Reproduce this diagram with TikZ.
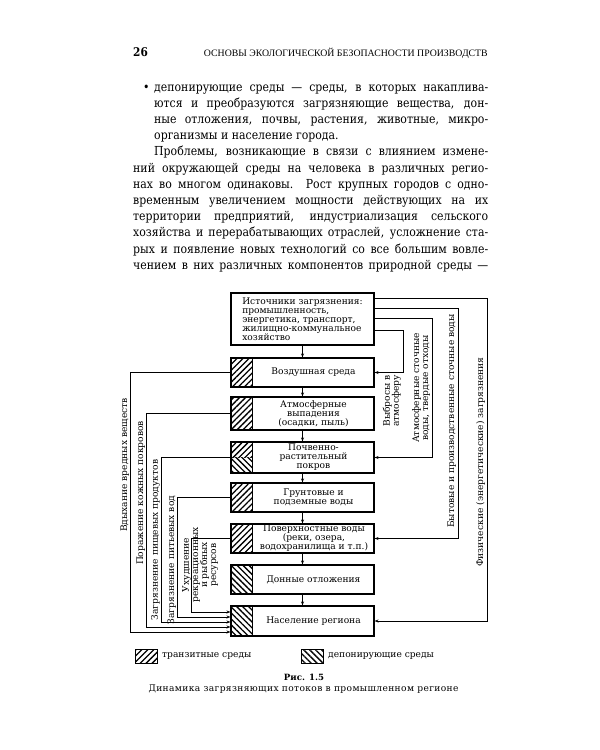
\documentclass[tikz,border=0pt]{standalone}
\usepackage{fontspec}
\setmainfont{DejaVu Serif}[FakeStretch=0.88]
\newfontfamily\dgfam{DejaVu Serif}
\newfontfamily\capfam{DejaVu Serif}[LetterSpace=4]
\newfontfamily\hdrfont{Liberation Serif}
\usetikzlibrary{patterns.meta,arrows.meta}
\newcommand\diagfont{\dgfam\fontsize{9.1}{9}\selectfont}
\newcommand\bodyfont{\fontsize{12.4}{16}\selectfont}
\newcommand\capfont{\capfam\fontsize{9.1}{10}\selectfont}
\newcommand\jl[2]{\hbox to #1pt{#2}}
\tikzset{
  box/.style={draw, line width=1.1pt, inner sep=0pt, minimum width=143pt},
  dtext/.style={font=\diagfont, align=center, inner sep=0pt},
  con/.style={line width=0.7pt},
  arr/.style={con, -{Stealth[length=4pt,width=3pt]}},
  vlab/.style={font=\diagfont, rotate=90, anchor=south, inner sep=0.8pt, align=center},
  transit/.style={pattern={Lines[angle=45,distance=4.2pt,line width=1.3pt]}},
  depo/.style={pattern={Lines[angle=-45,distance=4.2pt,line width=1.3pt]}},
  bline/.style={anchor=base west, inner sep=0pt, font=\bodyfont},
  legbox/.style={draw, line width=0.9pt, minimum width=22pt, minimum height=14pt, inner sep=0pt},
}
\begin{document}
\begin{tikzpicture}[x=1pt,y=-1pt]
\fill[white] (0,0) rectangle (600,750);
\path[use as bounding box] (0,0) rectangle (600,750);

% header
\node[anchor=base west, inner sep=0pt, font=\bfseries\fontsize{12}{12}\selectfont] (pg) at (133,56) {26};
\node[anchor=base east, inner sep=0pt, font=\hdrfont\fontsize{9.8}{12}\selectfont] (hd) at (488,56) {ОСНОВЫ ЭКОЛОГИЧЕСКОЙ БЕЗОПАСНОСТИ ПРОИЗВОДСТВ};

% body text
\node[bline] (bul) at (143,91) {•};
\node[bline] (t1) at (154,91) {\jl{334}{депонирующие среды — среды, в которых накаплива-}};
\node[bline] (t2) at (154,107.2) {\jl{334}{ются и преобразуются загрязняющие вещества, дон-}};
\node[bline] (t3) at (154,123.4) {\jl{334}{ные отложения, почвы, растения, животные, микро-}};
\node[bline] (t4) at (154,139.6) {организмы и население города.};
\node[bline] (t5) at (154,155.8) {\jl{334}{Проблемы, возникающие в связи с влиянием измене-}};
\node[bline] (t6) at (133,172) {\jl{355}{ний окружающей среды на человека в различных регио-}};
\node[bline] (t7) at (133,188.2) {\jl{355}{нах во многом одинаковы. Рост крупных городов с одно-}};
\node[bline] (t8) at (133,204.4) {\jl{355}{временным увеличением мощности действующих на их}};
\node[bline] (t9) at (133,220.6) {\jl{355}{территории предприятий, индустриализация сельского}};
\node[bline] (t10) at (133,236.8) {\jl{355}{хозяйства и перерабатывающих отраслей, усложнение ста-}};
\node[bline] (t11) at (133,253) {\jl{355}{рых и появление новых технологий со все большим вовле-}};
\node[bline] (t12) at (133,269.2) {\jl{355}{чением в них различных компонентов природной среды —}};

% boxes
\node[box, minimum height=52pt, align=left, font=\diagfont] (src) at (302.5,319) {Источники загрязнения:\\промышленность,\\энергетика, транспорт,\\жилищно-коммунальное\\хозяйство};
\node[box, minimum height=29pt] (b1) at (302.5,372.5) {};
\node[box, minimum height=33pt] (b2) at (302.5,413.5) {};
\node[box, minimum height=31pt] (b3) at (302.5,457.5) {};
\node[box, minimum height=29pt] (b4) at (302.5,497.5) {};
\node[box, minimum height=29pt] (b5) at (302.5,538.5) {};
\node[box, minimum height=29pt] (b6) at (302.5,579.5) {};
\node[box, minimum height=30pt] (b7) at (302.5,621) {};

% hatching
\path[transit] (b1.north west) rectangle ([xshift=22pt]b1.south west);
\path[transit] (b2.north west) rectangle ([xshift=22pt]b2.south west);
\path[transit] (b3.north west) rectangle ([xshift=22pt]b3.west);
\path[depo] (b3.west) rectangle ([xshift=22pt]b3.south west);
\path[transit] (b4.north west) rectangle ([xshift=22pt]b4.south west);
\path[transit] (b5.north west) rectangle ([xshift=22pt]b5.south west);
\path[depo] (b6.north west) rectangle ([xshift=22pt]b6.south west);
\path[depo] (b7.north west) rectangle ([xshift=22pt]b7.south west);
\foreach \b in {b1,b2,b3,b4,b5,b6,b7}{
  \draw[line width=1pt] ([xshift=22pt]\b.north west) -- ([xshift=22pt]\b.south west);
  \draw[line width=1.1pt] (\b.north west) rectangle (\b.south east);
}

% box texts
\node[dtext] (b1t) at (313.5,372.5) {Воздушная среда};
\node[dtext] (b2t) at (313.5,413.5) {Атмосферные\\выпадения\\(осадки, пыль)};
\node[dtext] (b3t) at (313.5,457.5) {Почвенно-\\растительный\\покров};
\node[dtext] (b4t) at (313.5,497.5) {Грунтовые и\\подземные воды};
\node[dtext] (b5t) at (314,538.5) {Поверхностные воды\\(реки, озера,\\водохранилища и т.п.)};
\node[dtext] (b6t) at (313.5,579.5) {Донные отложения};
\node[dtext] (b7t) at (313.5,621) {Население региона};

% vertical arrows
\draw[arr] (src) -- (b1);
\draw[arr] (b1) -- (b2);
\draw[arr] (b2) -- (b3);
\draw[arr] (b3) -- (b4);
\draw[arr] (b4) -- (b5);
\draw[arr] (b5) -- (b6);
\draw[arr] (b6) -- (b7);

% right connectors
\draw[arr] ([yshift=-6pt]src.north east) -- ++(113,0) |- (b7.east);
\draw[arr] ([yshift=-16pt]src.north east) -- ++(84,0) |- (b5.east);
\draw[arr] ([yshift=-26pt]src.north east) -- ++(58,0) |- (b3.east);
\draw[arr] ([yshift=-38pt]src.north east) -- ++(29,0) |- (b1.east);

\node[vlab] (rl1) at (486,462) {Физические (энергетические) загрязнения};
\node[vlab] (rl2) at (457,421) {Бытовые и производственные сточные воды};
\node[vlab] (rl3) at (431,388) {Атмосферные сточные\\воды, твердые отходы};
\node[vlab] (rl4) at (402,401) {Выбросы в\\атмосферу};

% left connectors
\draw[arr] (b1.west) -- ++(-100,0) |- ([yshift=-11pt]b7.west);
\draw[arr] (b2.west) -- ++(-84,0) |- ([yshift=-6pt]b7.west);
\draw[arr] (b3.west) -- ++(-69,0) |- ([yshift=-1pt]b7.west);
\draw[arr] (b4.west) -- ++(-53,0) |- ([yshift=4pt]b7.west);
\draw[arr] (b5.west) -- ++(-39,0) |- ([yshift=9pt]b7.west);

\node[vlab] (vl1) at (130,465) {Вдыхание вредных веществ};
\node[vlab] (vl2) at (146,493) {Поражение кожных покровов};
\node[vlab] (vl3) at (161,540) {Загрязнение пищевых продуктов};
\node[vlab] (vl4) at (177,560) {Загрязнение питьевых вод};
\node[vlab, inner sep=0.4pt] (vl5a) at (191.4,565) {Ухудшение};
\node[vlab, anchor=north, inner sep=0.4pt] (vl5b) at (192.6,565) {рекреационных\\и рыбных\\ресурсов};

% legend
\node[legbox, transit] (lgA) at (146,656) {};
\node[font=\diagfont, anchor=west, inner sep=0pt] (lgAt) at (162,656) {транзитные среды};
\node[legbox, depo] (lgB) at (312.5,656) {};
\node[font=\diagfont, anchor=west, inner sep=0pt] (lgBt) at (328,656) {депонирующие среды};

% caption
\node[font=\bfseries\dgfam\fontsize{8.6}{10}\selectfont, inner sep=0pt] (cap1) at (304,677) {Рис. 1.5};
\node[font=\capfont, inner sep=0pt] (cap2) at (303.5,689) {Динамика загрязняющих потоков в промышленном регионе};
\end{tikzpicture}
\end{document}
